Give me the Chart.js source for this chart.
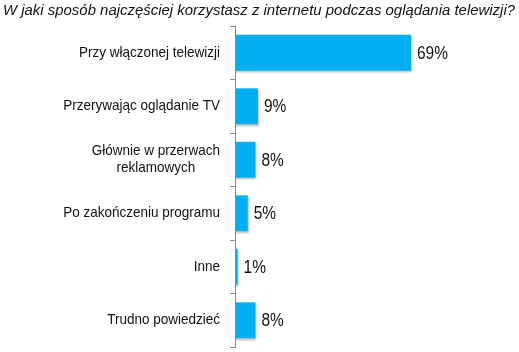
<!DOCTYPE html>
<html>
<head>
<meta charset="utf-8">
<script src="https://cdn.jsdelivr.net/npm/chart.js@4"></script>
<style>
  html, body { margin: 0; padding: 0; background: #fff; }
  #wrap { width: 519px; height: 352px; position: relative; }
</style>
</head>
<body>
<div id="wrap"><canvas id="chart" width="519" height="352"></canvas></div>
<script>
"use strict";

const title = "W jaki sposób najczęściej korzystasz z internetu podczas oglądania telewizji?";
const categories = [
  ["Przy włączonej telewizji"],
  ["Przerywając oglądanie TV"],
  ["Głównie w przerwach", "reklamowych"],
  ["Po zakończeniu programu"],
  ["Inne"],
  ["Trudno powiedzieć"]
];
const values = [69, 9, 8, 5, 1, 8];
const valueLabels = ["69%", "9%", "8%", "5%", "1%", "8%"];

const FONT = '"Liberation Sans", Arial, sans-serif';
const axisColor = "#878787";

// draws a string squeezed horizontally, like the narrow text of the original
function squeezed(ctx, text, x, y, sx, align) {
  ctx.save();
  ctx.translate(x, y);
  ctx.scale(sx, 1);
  ctx.textAlign = align;
  ctx.fillText(text, 0, 0);
  ctx.restore();
}

const textPlugin = {
  id: "texts",
  beforeDatasetsDraw(chart) {
    const ctx = chart.ctx;
    ctx.save();
    ctx.shadowColor = "rgba(0,0,0,0.28)";
    ctx.shadowOffsetX = 1;
    ctx.shadowOffsetY = 1.5;
    ctx.shadowBlur = 2;
  },
  afterDatasetsDraw(chart) {
    chart.ctx.restore();
  },
  afterDraw(chart) {
    const ctx = chart.ctx;
    const y = chart.scales.y;
    ctx.save();
    ctx.fillStyle = "#111";
    ctx.textBaseline = "alphabetic";

    // title
    ctx.font = "italic 15px " + FONT;
    let tw = ctx.measureText(title).width;
    squeezed(ctx, title, 3, 14.5, Math.min(1, 512 / tw), "left");

    // category labels
    ctx.font = "15px " + FONT;
    const sx = 0.9;
    ctx.textBaseline = "middle";
    categories.forEach((lines, i) => {
      const cy = y.getPixelForValue(i);
      const w = Math.max(...lines.map(l => ctx.measureText(l).width)) * sx;
      const cx = 220 - w / 2;
      const lh = 17;
      lines.forEach((l, k) => {
        squeezed(ctx, l, cx, cy + (k - (lines.length - 1) / 2) * lh, sx, "center");
      });
    });

    // value labels
    ctx.font = "18px " + FONT;
    const meta = chart.getDatasetMeta(0);
    meta.data.forEach((bar, i) => {
      squeezed(ctx, valueLabels[i], bar.x + 6, bar.y + 1, 0.86, "left");
    });
    ctx.restore();
  }
};

const ctx = document.getElementById("chart").getContext("2d");
const myChart = new Chart(ctx, {
  type: "bar",
  data: {
    labels: categories,
    datasets: [{
      data: values,
      backgroundColor: "#00B0F0",
      borderWidth: 0,
      barPercentage: 0.67,
      categoryPercentage: 1
    }]
  },
  options: {
    indexAxis: "y",
    responsive: false,
    animation: false,
    devicePixelRatio: 1,
    layout: { padding: { left: 0, right: 29, top: 26, bottom: 5 } },
    plugins: {
      legend: { display: false },
      title: { display: false },
      tooltip: { enabled: false }
    },
    scales: {
      x: { display: false, min: 0, max: 100 },
      y: {
        afterFit(scale) { scale.width = 235; },
        ticks: { display: false },
        border: { display: true, color: axisColor, width: 1 },
        grid: {
          display: true,
          offset: true,
          drawOnChartArea: false,
          drawTicks: true,
          tickLength: 5,
          color: axisColor
        }
      }
    }
  },
  plugins: [textPlugin]
});
</script>
</body>
</html>
